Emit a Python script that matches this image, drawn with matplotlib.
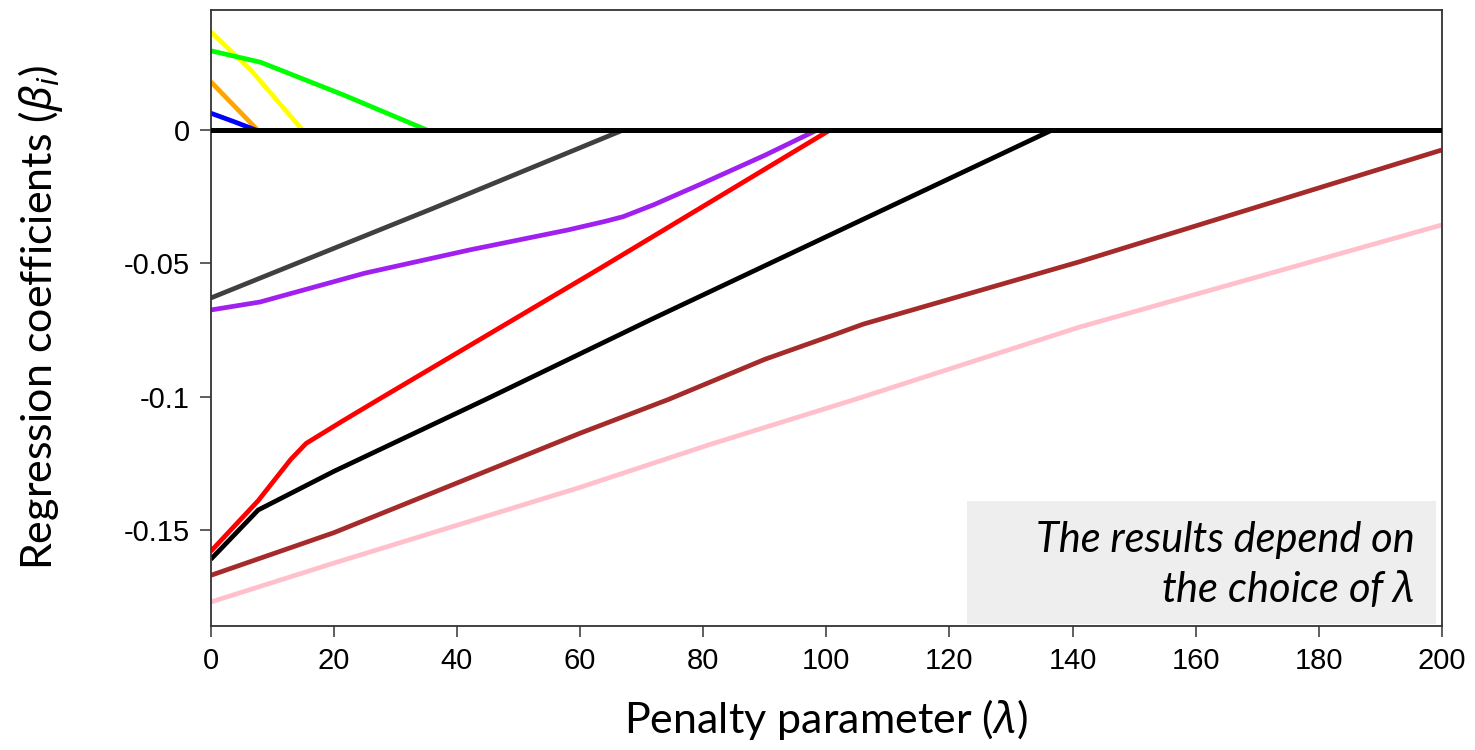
import matplotlib
matplotlib.use("Agg")
import matplotlib.pyplot as plt
from matplotlib.patches import Rectangle

plt.rcParams["mathtext.fontset"] = "custom"
plt.rcParams["mathtext.it"] = "Noto Sans:italic"
plt.rcParams["mathtext.rm"] = "Noto Sans"

# coefficient paths along the penalty parameter
yellow_x = [0, 6.5, 14.9]
yellow_y = [0.0368, 0.0225, 0.0]
green_x = [0, 8.1, 21.6, 35.1]
green_y = [0.0297, 0.0254, 0.0131, 0.0]
orange_x = [0, 7.6]
orange_y = [0.0181, 0.0]
blue_x = [0, 3.8, 7.3]
blue_y = [0.0063, 0.0031, 0.0]

gray_x = [0, 36.2, 67.0]
gray_y = [-0.063, -0.0293, 0.0]
purple_x = [0, 8, 25, 42, 58, 64, 67, 72, 80, 90, 98.5]
purple_y = [-0.0675, -0.0645, -0.0537, -0.045, -0.0375, -0.0343, -0.0325,
            -0.028, -0.0199, -0.0095, 0.0]
red_x = [0, 7.7, 13, 15.5, 21.5, 27.3, 63.3, 100.6]
red_y = [-0.158, -0.139, -0.1235, -0.1175, -0.109, -0.101, -0.0518, 0.0]
black_x = [0, 7.7, 20, 44.7, 71.4, 136.7]
black_y = [-0.161, -0.1425, -0.128, -0.101, -0.0712, 0.0]
brown_x = [0, 20, 42, 60, 74.4, 90, 101, 106, 141, 200]
brown_y = [-0.167, -0.151, -0.1305, -0.1137, -0.101, -0.086, -0.077,
           -0.0728, -0.0495, -0.0075]
pink_x = [0, 20, 60, 81, 104.7, 141, 200]
pink_y = [-0.177, -0.1624, -0.134, -0.118, -0.101, -0.074, -0.0356]

paths = [
    (yellow_x, yellow_y, "#ffff00"),
    (green_x, green_y, "#00ff00"),
    (orange_x, orange_y, "#ffa500"),
    (blue_x, blue_y, "#0000ff"),
    (gray_x, gray_y, "#404040"),
    (purple_x, purple_y, "#a020f0"),
    (red_x, red_y, "#ff0000"),
    (black_x, black_y, "#000000"),
    (brown_x, brown_y, "#a52a2a"),
    (pink_x, pink_y, "#ffc0cb"),
]

x_ticks = [0, 20, 40, 60, 80, 100, 120, 140, 160, 180, 200]
y_ticks = [0, -0.05, -0.1, -0.15]
y_tick_labels = ["0", "-0.05", "-0.1", "-0.15"]

fig = plt.figure(figsize=(14.75, 7.5), dpi=100)
ax = fig.add_axes([0.1429, 0.1653, 0.8346, 0.8214])

for xs, ys, color in paths:
    ax.plot(xs, ys, color=color, lw=3.4, solid_capstyle="butt")
ax.axhline(0, color="black", lw=3.6, zorder=5)

ax.set_xlim(0, 200)
ax.set_ylim(-0.186, 0.045)
ax.set_xticks(x_ticks)
ax.set_xticklabels([str(t) for t in x_ticks])
ax.set_yticks(y_ticks)
ax.set_yticklabels(y_tick_labels)
ax.tick_params(direction="out", length=8, width=1.1, pad=7, labelsize=21,
               color="#333333")
for lbl in ax.get_xticklabels() + ax.get_yticklabels():
    lbl.set_family("Liberation Sans")
for sp in ax.spines.values():
    sp.set_color("#333333")
    sp.set_linewidth(1.3)

ax.set_xlabel(r"Penalty parameter ($\lambda$)", family="Lato", fontsize=31,
              labelpad=16)
ax.set_ylabel(r"Regression coefficients ($\beta_i$)", family="Lato",
              fontsize=31, labelpad=42)

ax.add_patch(Rectangle((0.614, 0.003), 0.381, 0.200, transform=ax.transAxes,
                       facecolor="#eeeeee", edgecolor="none", zorder=1))
note_lines = ["The results depend on", "the choice of $\\lambda$"]
for line, y in zip(note_lines, [0.120, 0.039]):
    ax.text(0.978, y, line, transform=ax.transAxes, ha="right",
            va="baseline", family="Lato", style="italic", fontsize=30,
            zorder=6)

fig.savefig("out.png", dpi=100)
